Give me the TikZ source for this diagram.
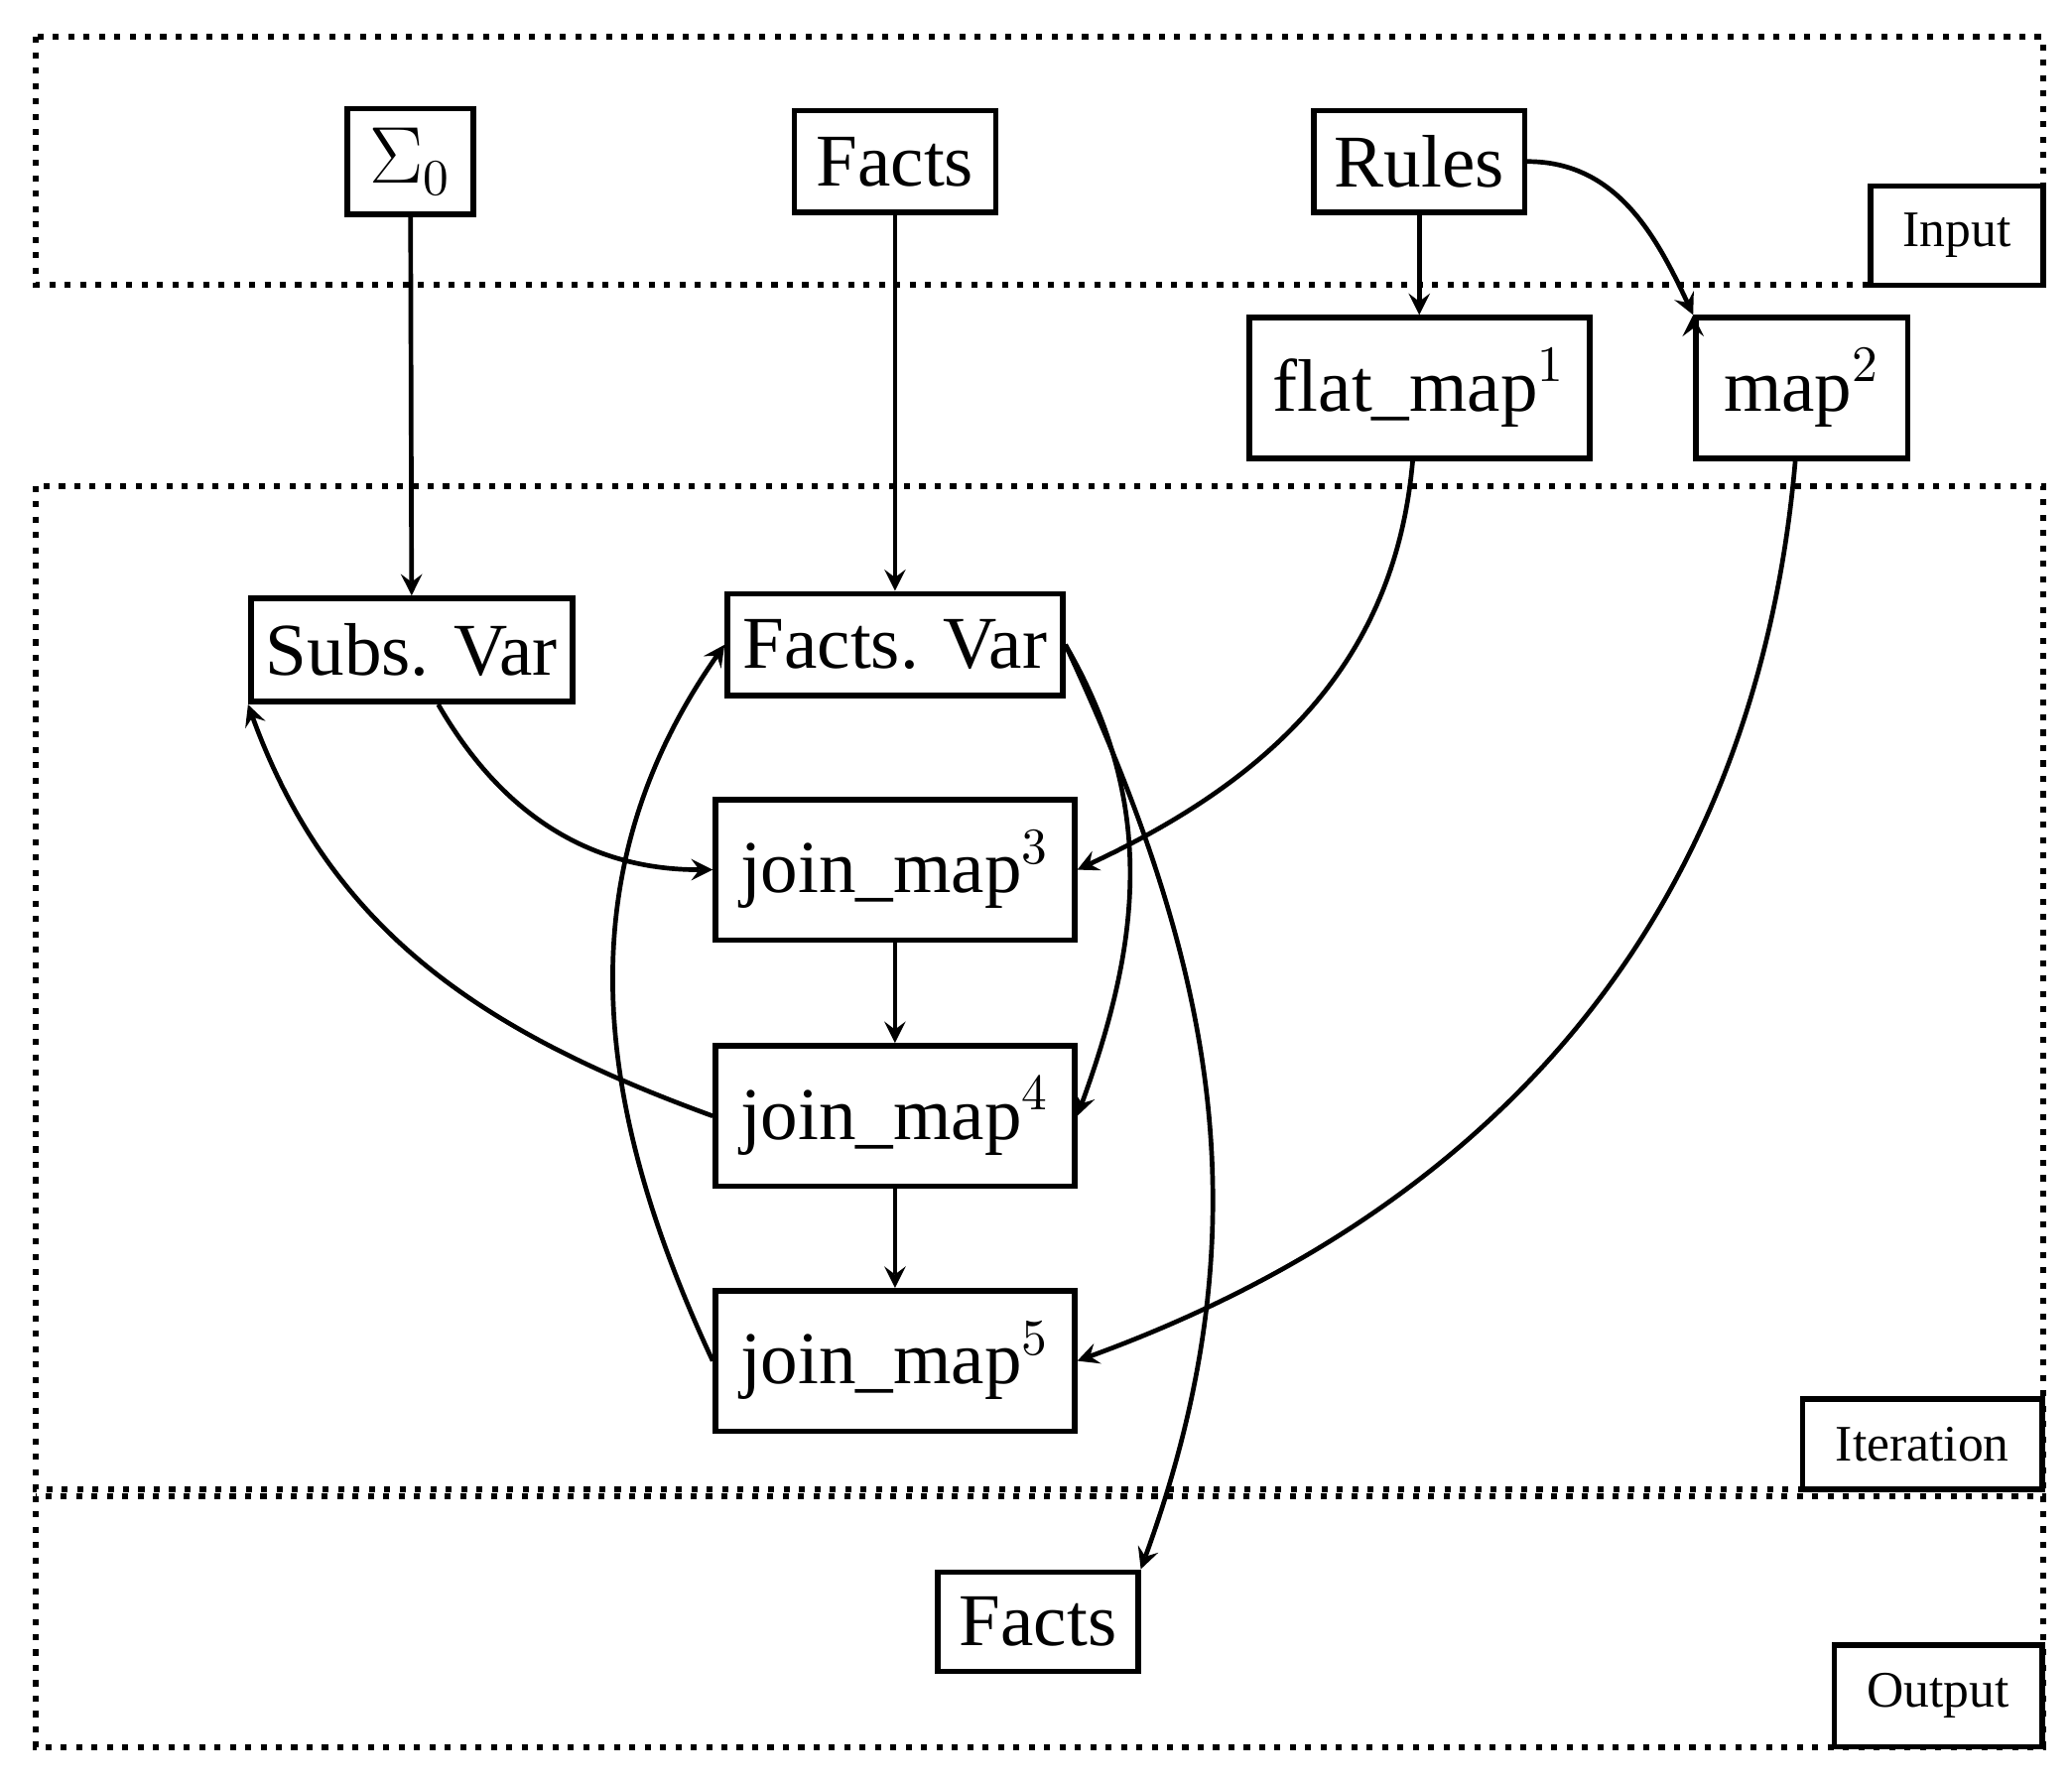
\documentclass[tikz,border=0pt]{standalone}
\usepackage{fontspec}
\setmainfont{Liberation Serif}
\begin{document}
\begin{tikzpicture}[x=0.01cm,y=-0.01cm,
 box/.style={draw,line width=1.2pt,inner sep=0pt,font=\fontsize{16}{18}\selectfont},
 lab/.style={draw,line width=1.2pt,inner sep=0pt,font=\fontsize{11}{13}\selectfont},
 region/.style={dotted,line width=1.3pt},
 arr/.style={->,>=stealth,line width=1pt}]
\useasboundingbox (0,0) rectangle (1565,1347);
\draw[region] (27,28) rectangle (1543,215);
\draw[region] (27,367) rectangle (1543,1125);
\draw[region] (27,1130) rectangle (1543,1320);
\node[lab,minimum width=1.3cm,minimum height=0.75cm,fill=white] (inp) at (1478,178) {Input};
\node[lab,minimum width=1.81cm,minimum height=0.68cm,fill=white] (itr) at (1452,1091) {Iteration};
\node[lab,minimum width=1.57cm,minimum height=0.77cm,fill=white] (outl) at (1464,1281) {Output};
\node[box,minimum width=0.95cm,minimum height=0.8cm] (s0) at (310,122) {$\Sigma_0$};
\node[box,minimum width=1.52cm,minimum height=0.77cm] (facts) at (676,122) {Facts};
\node[box,minimum width=1.59cm,minimum height=0.77cm] (rules) at (1072,122) {Rules};
\node[box,minimum width=2.57cm,minimum height=1.06cm] (fm) at (1072,293) {flat\_map$^1$};
\node[box,minimum width=1.6cm,minimum height=1.06cm] (m2) at (1361,293) {map$^2$};
\node[box,minimum width=2.43cm,minimum height=0.78cm] (sv) at (311,491) {Subs. Var};
\node[box,minimum width=2.53cm,minimum height=0.77cm] (fv) at (676,487) {Facts. Var};
\node[box,minimum width=2.71cm,minimum height=1.06cm] (j3) at (676,657) {join\_map$^3$};
\node[box,minimum width=2.71cm,minimum height=1.06cm] (j4) at (676,843) {join\_map$^4$};
\node[box,minimum width=2.71cm,minimum height=1.06cm] (j5) at (676,1028) {join\_map$^5$};
\node[box,minimum width=1.51cm,minimum height=0.75cm] (fo) at (784,1225) {Facts};
\draw[arr] (s0) -- (sv);
\draw[arr] (facts) -- (fv);
\draw[arr] (rules) -- (fm);
\draw[arr] (rules.east) to[out=0,in=115] (m2.north west);
\draw[arr] (m2.north west) ++(0,0);
\draw[arr] (fm.south) ++(-5,0) coordinate (fa) (fa) to[out=-95,in=25] (j3.east);
\draw[arr] (m2.south) ++(-5,0) coordinate (ma) (ma) to[out=-95,in=20] (j5.east);
\draw[arr] (sv.south) ++(20,0) coordinate (sa) (sa) to[out=-60,in=180] (j3.west);
\draw[arr] (j3) -- (j4);
\draw[arr] (j4) -- (j5);
\draw[arr] (j4.west) to[out=160,in=-70] (sv.south west);
\draw[arr] (j5.west) to[out=115,in=-125] (fv.west);
\draw[arr] (fv.east) to[out=-60,in=70] (j4.east);
\draw[arr] (fv.east) to[out=-65,in=70] (fo.north east);
\end{tikzpicture}
\end{document}
